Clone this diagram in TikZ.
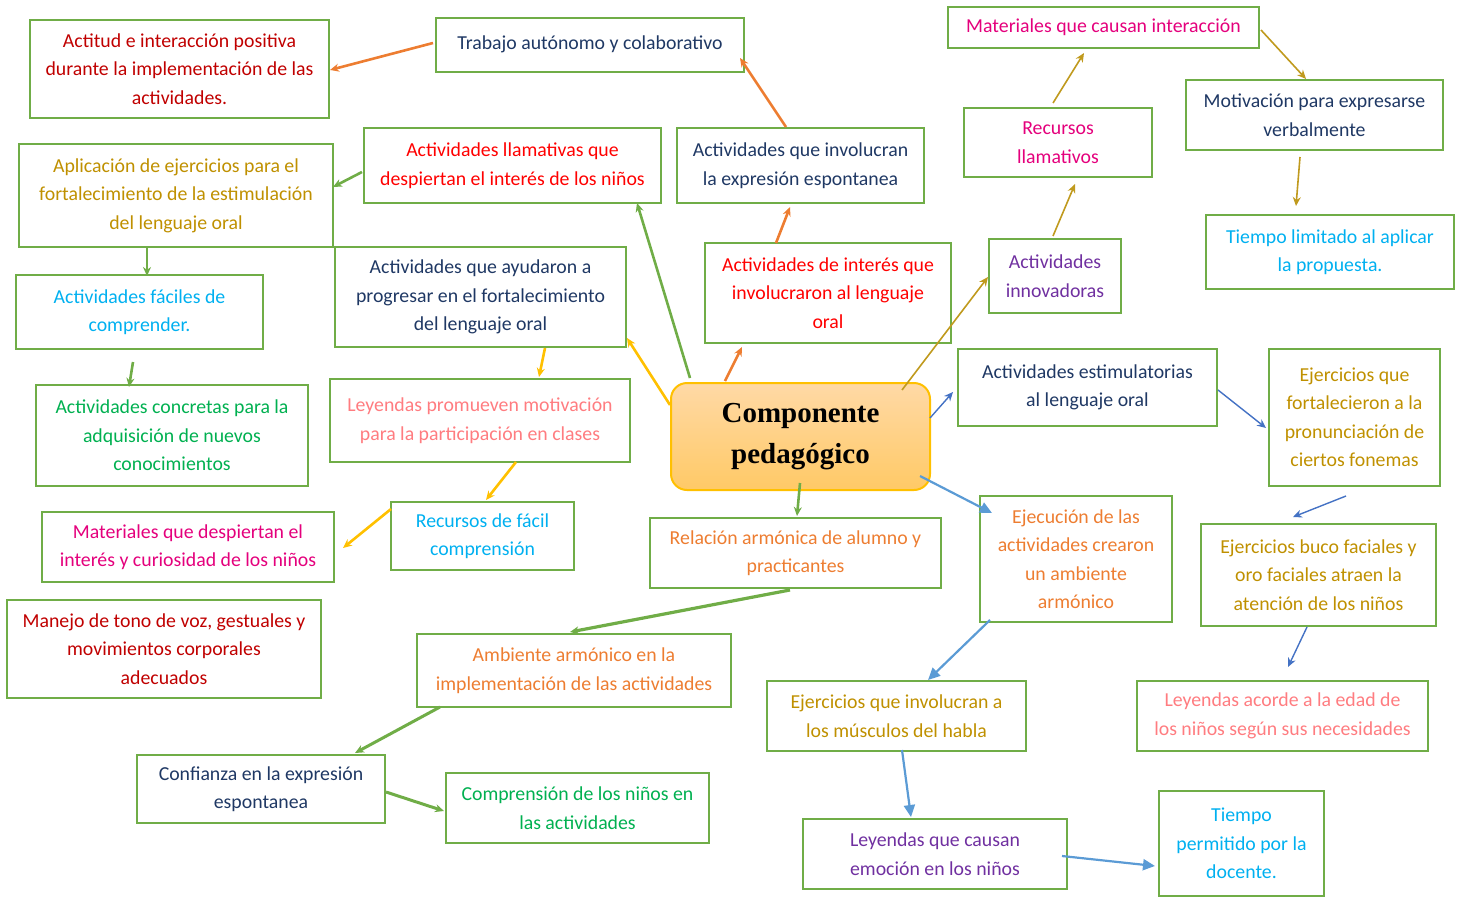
\documentclass[tikz,border=0pt]{standalone}
\usepackage{fontspec}
\setmainfont{Carlito}
\newfontfamily\titlefont{Liberation Serif}
\usetikzlibrary{arrows.meta,shadings}
\definecolor{cBorder}{HTML}{70AD47}
\definecolor{cNavy}{HTML}{1F3864}
\definecolor{cDRed}{HTML}{C00000}
\definecolor{cRed}{HTML}{FF0000}
\definecolor{cMag}{HTML}{E4007C}
\definecolor{cLBlue}{HTML}{00B0F0}
\definecolor{cPurple}{HTML}{7030A0}
\definecolor{cGold}{HTML}{BF9000}
\definecolor{cGreenT}{HTML}{00B050}
\definecolor{cSalmon}{HTML}{FF7C80}
\definecolor{cOrange}{HTML}{ED7D31}
\definecolor{cYellow}{HTML}{FFC000}
\definecolor{cBlue}{HTML}{4472C4}
\definecolor{cBlueL}{HTML}{5B9BD5}
\definecolor{cArrGold}{HTML}{C09A1E}
\newcommand{\boxnode}[7]{%
  \node[box, text=#6, minimum width={(#4-#2)*1pt}, minimum height={(#5-#3)*1pt}]
    (#1) at ({(#2+#4)/2},{(#3+#5)/2}) {#7};}
\begin{document}
\begin{tikzpicture}[x=1pt,y=-1pt,
  box/.style={draw=cBorder, line width=1.4pt, inner sep=0pt, outer sep=0pt,
    align=center, font=\fontsize{19.8}{28.5}\selectfont},
  arrO/.style={draw=cOrange, line width=2.6pt, -{Stealth[length=9pt,width=8pt]}},
  arrG/.style={draw=cBorder, line width=2.6pt, -{Stealth[length=9pt,width=8pt]}},
  arrY/.style={draw=cYellow, line width=2.6pt, -{Stealth[length=9pt,width=8pt]}},
  arrD/.style={draw=cArrGold, line width=1.6pt, -{Stealth[length=9pt,width=8pt]}},
  arrB/.style={draw=cBlue, line width=1.4pt, -{Stealth[length=9pt,width=8pt]}},
  arrL/.style={draw=cBlueL, line width=2.2pt, -{Triangle[length=12pt,width=11pt]}},
]
\useasboundingbox (0,0) rectangle (1459,897);

\boxnode{A1}{30}{20}{329}{118}{cDRed}{Actitud e interacción positiva\\durante la implementación de las\\actividades.}
\boxnode{T}{436}{18}{744}{72}{cNavy}{\raisebox{5pt}{Trabajo autónomo y colaborativo}}
\boxnode{MI}{948}{7}{1259}{48}{cMag}{Materiales que causan interacción}
\boxnode{MO}{1186}{80}{1443}{150}{cNavy}{Motivación para expresarse\\verbalmente}
\boxnode{RL}{964}{108}{1152}{177}{cMag}{Recursos\\llamativos}
\boxnode{TL}{1206}{215}{1454}{289}{cLBlue}{Tiempo limitado al aplicar\\la propuesta.}
\boxnode{AI}{989}{239}{1121}{313}{cPurple}{Actividades\\innovadoras}
\boxnode{AE}{19}{144}{333}{247}{cGold}{Aplicación de ejercicios para el\\fortalecimiento de la estimulación\\del lenguaje oral}
\boxnode{AL}{364}{128}{661}{203}{cRed}{Actividades llamativas que\\despiertan el interés de los niños}
\boxnode{AX}{677}{128}{924}{203}{cNavy}{Actividades que involucran\\la expresión espontanea}
\boxnode{AP}{335}{247}{626}{347}{cNavy}{Actividades que ayudaron a\\progresar en el fortalecimiento\\del lenguaje oral}
\boxnode{AIN}{705}{243}{951}{343}{cRed}{Actividades de interés que\\involucraron al lenguaje\\oral}
\boxnode{AF}{16}{275}{263}{349}{cLBlue}{Actividades fáciles de\\comprender.}
\boxnode{AC}{36}{385}{308}{486}{cGreenT}{Actividades concretas para la\\adquisición de nuevos\\conocimientos}
\boxnode{LP}{330}{379}{630}{462}{cSalmon}{Leyendas promueven motivación\\para la participación en clases}
\boxnode{AES}{958}{349}{1217}{426}{cNavy}{Actividades estimulatorias\\al lenguaje oral}
\boxnode{EF}{1269}{349}{1440}{486}{cGold}{Ejercicios que\\fortalecieron a la\\pronunciación de\\ciertos fonemas}
\boxnode{MD}{42}{512}{334}{582}{cMag}{Materiales que despiertan el\\interés y curiosidad de los niños}
\boxnode{RF}{391}{502}{574}{570}{cLBlue}{Recursos de fácil\\comprensión}
\boxnode{RA}{650}{518}{941}{588}{cOrange}{Relación armónica de alumno y\\practicantes}
\boxnode{EJ}{980}{496}{1172}{622}{cOrange}{Ejecución de las\\actividades crearon\\un ambiente\\armónico}
\boxnode{EB}{1201}{524}{1436}{626}{cGold}{Ejercicios buco faciales y\\oro faciales atraen la\\atención de los niños}
\boxnode{MT}{7}{600}{321}{698}{cDRed}{Manejo de tono de voz, gestuales y\\movimientos corporales\\adecuados}
\boxnode{AA}{417}{634}{731}{707}{cOrange}{Ambiente armónico en la\\implementación de las actividades}
\boxnode{EM}{767}{681}{1026}{751}{cGold}{Ejercicios que involucran a\\los músculos del habla}
\boxnode{LE}{1137}{681}{1428}{751}{cSalmon}{Leyendas acorde a la edad de\\los niños según sus necesidades}
\boxnode{CE}{137}{755}{385}{823}{cNavy}{Confianza en la expresión\\espontanea}
\boxnode{CN}{446}{773}{709}{843}{cGreenT}{Comprensión de los niños en\\las actividades}
\boxnode{LC}{803}{819}{1067}{889}{cPurple}{Leyendas que causan\\emoción en los niños}
\boxnode{TP}{1159}{791}{1324}{896}{cLBlue}{Tiempo\\permitido por la\\docente.}

\node[draw=cYellow, line width=2pt, rounded corners=16pt, top color=yellow!15!orange!35!white, bottom color=yellow!30!orange!60!white,
  minimum width=259pt, minimum height=107pt, inner sep=0pt, outer sep=0pt, align=center,
  font=\titlefont\bfseries\fontsize{29}{41}\selectfont] (C) at (800.5,436.5) {Componente\\pedagógico};

% arrows
\draw[arrO] ([shift={(-3,25)}]T.north west) -- ([shift={(300,50)}]A1.north west);
\draw[arrO] ([shift={(109,-1)}]AX.north west) -- ([shift={(304,40)}]T.north west);
\draw[arrO] ([shift={(71,0)}]AIN.north west) -- ([shift={(113,79)}]AX.north west);
\draw[arrO] ([shift={(54,-2)}]C.north west) -- ([shift={(37,104)}]AIN.north west);
\draw[arrG] ([shift={(19,-5)}]C.north west) -- ([shift={(273,75)}]AL.north west);
\draw[arrY] ([shift={(-1,22)}]C.north west) -- ([shift={(292,91)}]AP.north west);
\draw[arrY] ([shift={(210,101)}]AP.north west) -- ([shift={(209,-2)}]LP.north west);
\draw[arrY] ([shift={(186,83)}]LP.north west) -- ([shift={(95,-2)}]RF.north west);
\draw[arrY] ([shift={(0,7)}]RF.north west) -- ([shift={(301,36)}]MD.north west);
\draw[arrG] ([shift={(-2,44)}]AL.north west) -- ([shift={(314,43)}]AE.north west);
\draw[arrG] ([shift={(128,102)}]AE.north west) -- ([shift={(131,1)}]AF.north west);
\draw[arrG] ([shift={(117,87)}]AF.north west) -- ([shift={(93,2)}]AC.north west);
\draw[arrD] ([shift={(231,7)}]C.north west) -- ([shift={(-1,38)}]AI.north west);
\draw[arrD] ([shift={(64,-3)}]AI.north west) -- ([shift={(111,76)}]RL.north west);
\draw[arrD] ([shift={(89,-5)}]RL.north west) -- ([shift={(136,46)}]MI.north west);
\draw[arrD] ([shift={(313,23)}]MI.north west) -- ([shift={(120,-1)}]MO.north west);
\draw[arrD] ([shift={(114,77)}]MO.north west) -- ([shift={(90,-9)}]TL.north west);
\draw[arrB] ([shift={(259,35)}]C.north west) -- ([shift={(-5,43)}]AES.north west);
\draw[arrB] ([shift={(260,41)}]AES.north west) -- ([shift={(-3,79)}]EF.north west);
\draw[arrB] ([shift={(77,147)}]EF.north west) -- ([shift={(92,-7)}]EB.north west);
\draw[arrB] ([shift={(106,103)}]EB.north west) -- ([shift={(151,-14)}]LE.north west);
\draw[arrL] ([shift={(249,93)}]C.north west) -- ([shift={(12,17)}]EJ.north west);
\draw[arrG] ([shift={(129,100)}]C.north west) -- ([shift={(147,-2)}]RA.north west);
\draw[arrG, line width=3.2pt] ([shift={(140,72)}]RA.north west) -- ([shift={(153,-2)}]AA.north west);
\draw[arrG, line width=3pt] ([shift={(23,73)}]AA.north west) -- ([shift={(218,-2)}]CE.north west);
\draw[arrG, line width=3pt] ([shift={(249,37)}]CE.north west) -- ([shift={(-2,38)}]CN.north west);
\draw[arrL] ([shift={(10,124)}]EJ.north west) -- ([shift={(161,-1)}]EM.north west);
\draw[arrL] ([shift={(135,69)}]EM.north west) -- ([shift={(108,-2)}]LC.north west);
\draw[arrL] ([shift={(259,37)}]LC.north west) -- ([shift={(-4,75)}]TP.north west);
\end{tikzpicture}
\end{document}
